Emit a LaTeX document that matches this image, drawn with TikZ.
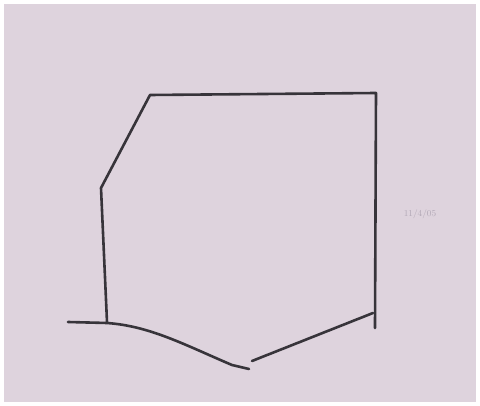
\documentclass[tikz,border=0pt]{standalone}
\usepackage{xcolor}
\usepackage{tikz}

\definecolor{paper}{RGB}{222,211,221}
\definecolor{ink}{RGB}{55,52,58}
\definecolor{faint}{RGB}{178,168,182}

\begin{document}
\begin{tikzpicture}[
    x=1pt, y=-1pt,
    pen/.style  = {draw=ink, line width=2.6pt, line cap=round, line join=round},
    note/.style = {font=\small, text=faint, anchor=center},
  ]
    % --- sheet of paper ---
    \fill[white] (0,0) rectangle (480,406);
    \fill[paper] (4,4) rectangle (476,402);
    \useasboundingbox (0,0) rectangle (480,406);

    % --- outline: top, right side, chamfer and left side ---
    \draw[pen] (107,322) -- (101,188) -- (150,95) -- (376,93) -- (375,328);

    % --- bottom edge, left half (overshoots the corner) ---
    \draw[pen] (68,322) -- (107,323)
      .. controls (150,326) and (185,345) .. (232,365) -- (249,369);

    % --- bottom edge, right half ---
    \draw[pen] (252,361) -- (373,313);

    % --- date note ---
    \node[note] (date) at (420,214) {11/4/05};
  \end{tikzpicture}
\end{document}
